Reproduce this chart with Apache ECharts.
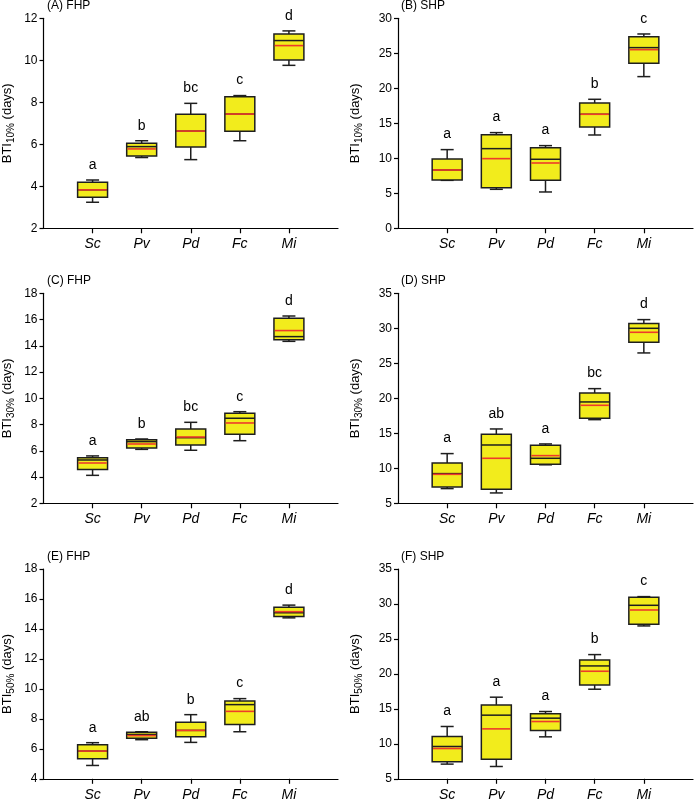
<!DOCTYPE html>
<html>
<head>
<meta charset="utf-8">
<script src="https://cdn.jsdelivr.net/npm/echarts@6/dist/echarts.min.js"></script>
<style>html,body{margin:0;padding:0;background:#fff}#c{width:696px;height:802px}</style>
</head>
<body>
<div id="c"></div>
<script>
// Categories (index 1..5 on a 0..6 slot axis)
const categories = ['', 'Sc', 'Pv', 'Pd', 'Fc', 'Mi', ''];
// Each row: [min, q1, median, q3, max, mean]
const statsA = [[3.24,3.48,3.83,4.19,4.30,3.83],[5.37,5.44,5.89,6.05,6.17,5.78],[5.27,5.87,6.63,7.43,7.95,6.63],[6.17,6.62,7.44,8.27,8.32,7.44],[9.76,10.02,10.94,11.25,11.40,10.70]];
const statsB = [[6.85,6.90,8.33,9.90,11.24,8.33],[5.57,5.81,11.38,13.38,13.67,9.95],[5.19,6.86,9.86,11.52,11.81,9.33],[13.33,14.48,16.29,17.90,18.43,16.29],[21.67,23.57,25.81,27.38,27.76,25.52]];
const statsC = [[4.13,4.57,5.30,5.48,5.61,5.07],[6.11,6.22,6.70,6.85,6.90,6.52],[6.04,6.44,7.00,7.66,8.17,7.05],[6.77,7.26,8.48,8.86,8.98,8.12],[14.34,14.47,14.70,16.10,16.27,15.16]];
const statsD = [[7.10,7.33,9.24,10.76,12.10,9.14],[6.48,7.00,13.33,14.86,15.62,11.43],[10.50,10.57,11.43,13.29,13.48,11.81],[16.95,17.14,19.48,20.76,21.38,19.00],[26.48,28.00,30.00,30.67,31.24,29.43]];
const statsE = [[4.89,5.34,5.85,6.27,6.41,5.85],[6.61,6.70,6.96,7.10,7.14,6.88],[6.43,6.81,7.23,7.77,8.28,7.23],[7.14,7.63,8.95,9.19,9.35,8.50],[14.74,14.83,15.08,15.44,15.59,15.15]];
const statsF = [[7.10,7.43,9.62,11.05,12.48,9.33],[6.76,7.81,14.10,15.57,16.67,12.14],[11.00,11.90,13.67,14.29,14.62,13.19],[17.81,18.43,21.14,22.00,22.76,20.38],[26.86,27.10,29.81,30.95,31.05,29.14]];
// Significance letters
const lettersA = ['a','b','bc','c','d'];
const lettersB = ['a','a','a','b','c'];
const lettersC = ['a','b','bc','c','d'];
const lettersD = ['a','ab','a','bc','d'];
const lettersE = ['a','ab','b','c','d'];
const lettersF = ['a','a','a','b','c'];
// Axis settings
const panelTitles = ['(A) FHP','(B) SHP','(C) FHP','(D) SHP','(E) FHP','(F) SHP'];
const yMins = [2, 0, 2, 5, 4, 5];
const yMaxs = [12, 30, 18, 35, 18, 35];
const yIntervals = [2, 5, 2, 5, 2, 5];
const ySubs = ['10%','10%','30%','30%','50%','50%'];

const allStats = [statsA, statsB, statsC, statsD, statsE, statsF];
const allLetters = [lettersA, lettersB, lettersC, lettersD, lettersE, lettersF];

const lefts = [41, 398];
const widths = [297, 295];
const tops = [18.3, 293.3, 569];
const heights = [210, 210, 209.8];
const nameGaps = [27, 34];

const chart = echarts.init(document.getElementById('c'), null, {renderer: 'canvas'});
const FONT = 'Liberation Sans, Arial, sans-serif';

const grids = [], xAxes = [], yAxes = [], series = [], titles = [];
for (let p = 0; p < 6; p++) {
  const col = p % 2, row = Math.floor(p / 2);
  grids.push({left: lefts[col], top: tops[row], width: widths[col], height: heights[row], containLabel: false});
  titles.push({
    text: panelTitles[p], left: lefts[col] + (col ? 3 : 6), top: tops[row] - 18.5, padding: 0,
    textStyle: {fontSize: 12, fontWeight: 'normal', color: '#000', fontFamily: FONT}
  });
  xAxes.push({
    type: 'category', gridIndex: p, data: categories, boundaryGap: false,
    axisLine: {lineStyle: {color: '#000', width: 1.2}},
    axisTick: {show: true, length: 5, inside: false, interval: (i) => i > 0 && i < 6, lineStyle: {color: '#000', width: 1.2}},
    axisLabel: {fontStyle: 'italic', fontSize: 14, color: '#000', margin: 9, fontFamily: FONT, interval: 0},
    splitLine: {show: false}
  });
  yAxes.push({
    type: 'value', gridIndex: p, min: yMins[p], max: yMaxs[p], interval: yIntervals[p],
    axisLine: {show: true, lineStyle: {color: '#000', width: 1.2}},
    axisTick: {show: true, length: 4, inside: false, lineStyle: {color: '#000', width: 1.2}},
    axisLabel: {fontSize: 12, color: '#000', margin: 6, fontFamily: FONT},
    splitLine: {show: false},
    name: '{b|BTI}{s|' + ySubs[p] + '}{b| (days)}',
    nameLocation: 'middle', nameRotate: 90, nameGap: nameGaps[col],
    nameTextStyle: {
      color: '#000', fontFamily: FONT,
      rich: {
        b: {fontSize: 13, lineHeight: 18, color: '#000', fontFamily: FONT},
        s: {fontSize: 10, lineHeight: 18, verticalAlign: 'bottom', color: '#000', fontFamily: FONT, padding: [4, 0, 0, 0]}
      }
    }
  });
  const stats = allStats[p], letters = allLetters[p];
  const data = stats.map((s, i) => [i + 1, s[0], s[1], s[2], s[3], s[4], s[5], letters[i]]);
  series.push({
    type: 'custom', xAxisIndex: p, yAxisIndex: p, data: data,
    encode: {x: 0, y: [1, 2, 3, 4, 5]},
    clip: false,
    renderItem: function (params, api) {
      const x = api.value(0);
      const band = api.size([1, 0])[0];
      const bw = band * 0.61, cw = 13;
      const pMin = api.coord([x, api.value(1)]);
      const pQ1 = api.coord([x, api.value(2)]);
      const pMed = api.coord([x, api.value(3)]);
      const pQ3 = api.coord([x, api.value(4)]);
      const pMax = api.coord([x, api.value(5)]);
      const pMean = api.coord([x, api.value(6)]);
      const cx = pMin[0];
      const stroke = {stroke: '#1e1e1e', lineWidth: 1.5, fill: null};
      const letter = data[params.dataIndex][7];
      return {
        type: 'group',
        children: [
          {type: 'line', shape: {x1: cx, y1: pMin[1], x2: cx, y2: pQ1[1]}, style: stroke},
          {type: 'line', shape: {x1: cx, y1: pQ3[1], x2: cx, y2: pMax[1]}, style: stroke},
          {type: 'line', shape: {x1: cx - cw / 2, y1: pMin[1], x2: cx + cw / 2, y2: pMin[1]}, style: stroke},
          {type: 'line', shape: {x1: cx - cw / 2, y1: pMax[1], x2: cx + cw / 2, y2: pMax[1]}, style: stroke},
          {type: 'rect', shape: {x: cx - bw / 2, y: pQ3[1], width: bw, height: pQ1[1] - pQ3[1]},
            style: {fill: '#f2ec1c', stroke: '#1e1e1e', lineWidth: 1.5}},
          {type: 'line', shape: {x1: cx - bw / 2, y1: pMed[1], x2: cx + bw / 2, y2: pMed[1]}, style: stroke},
          {type: 'line', shape: {x1: cx - bw / 2 + 0.8, y1: pMean[1], x2: cx + bw / 2 - 0.8, y2: pMean[1]},
            style: {stroke: '#ee3b2b', lineWidth: 1.6}},
          {type: 'text', x: cx, y: pMax[1] - 15,
            style: {text: letter, fill: '#000', fontSize: 14, fontFamily: FONT, align: 'center', verticalAlign: 'middle'}}
        ]
      };
    }
  });
}

chart.setOption({
  animation: false,
  backgroundColor: '#fff',
  title: titles,
  grid: grids,
  xAxis: xAxes,
  yAxis: yAxes,
  series: series
});
</script>
</body>
</html>
